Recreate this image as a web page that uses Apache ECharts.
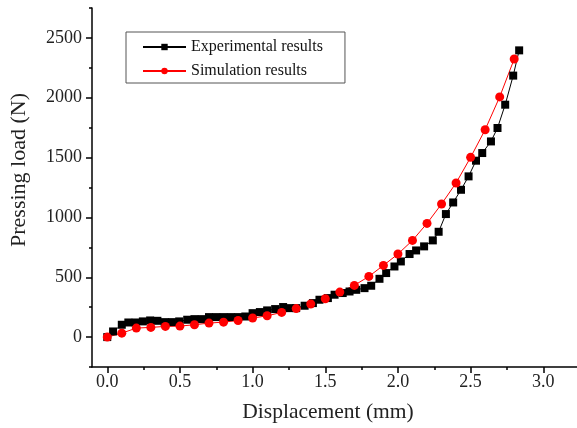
<!DOCTYPE html>
<html><head><meta charset="utf-8">
<script src="https://cdn.jsdelivr.net/npm/echarts@6/dist/echarts.min.js"></script>
<style>html,body{margin:0;padding:0;background:#fff}#c{width:577px;height:428px}</style>
</head><body><div id="c"></div>
<script>
const expX = [0, 0.04, 0.10, 0.145, 0.195, 0.245, 0.295, 0.345, 0.395, 0.445, 0.495, 0.55, 0.60, 0.65, 0.70, 0.75, 0.80, 0.85, 0.90, 0.95, 1.0, 1.05, 1.10, 1.155, 1.21, 1.255, 1.30, 1.358, 1.415, 1.46, 1.518, 1.564, 1.62, 1.667, 1.713, 1.77, 1.816, 1.873, 1.919, 1.976, 2.02, 2.08, 2.125, 2.18, 2.24, 2.28, 2.33, 2.38, 2.434, 2.486, 2.537, 2.58, 2.64, 2.685, 2.738, 2.793, 2.834];
const expY = [0, 47, 103, 122, 122, 131, 139, 136, 125, 125, 131, 145, 150, 150, 167, 167, 167, 167, 167, 172, 200, 209, 223, 234, 251, 242, 242, 262, 284, 312, 326, 354, 368, 381, 395, 409, 429, 487, 535, 590, 632, 694, 724, 758, 808, 880, 1028, 1125, 1231, 1343, 1474, 1538, 1635, 1747, 1942, 2185, 2396];
const simX = [0, 0.1, 0.2, 0.3, 0.4, 0.5, 0.6, 0.7, 0.8, 0.9, 1.0, 1.1, 1.2, 1.3, 1.4, 1.5, 1.6, 1.7, 1.8, 1.9, 2.0, 2.1, 2.2, 2.3, 2.4, 2.5, 2.6, 2.7, 2.8];
const simY = [0, 33, 75, 81, 89, 92, 103, 117, 125, 139, 159, 178, 206, 238, 276, 320, 376, 432, 507, 599, 694, 808, 950, 1112, 1288, 1502, 1733, 2007, 2324];
const xTicks = [0, 0.5, 1.0, 1.5, 2.0, 2.5, 3.0];
const xMinorTicks = [0.25, 0.75, 1.25, 1.75, 2.25, 2.75];
const yTicks = [0, 500, 1000, 1500, 2000, 2500];
const yMinorTicks = [-250, 250, 750, 1250, 1750, 2250, 2750];
const seriesNames = ['Experimental results', 'Simulation results'];
const xTitle = 'Displacement (mm)';
const yTitle = 'Pressing load (N)';

const FONT = 'Liberation Serif';
const XMIN = -0.105, XMAX = 3.232, YMIN = -250, YMAX = 2750;
const chart = echarts.init(document.getElementById('c'));
const axisLineStyle = {color: '#000', width: 1.5};
function xAxisDef(ticks, len, main) {
  return {type: 'value', min: XMIN, max: XMAX, position: 'bottom', splitLine: {show: false},
    axisLine: {show: main, onZero: false, lineStyle: axisLineStyle},
    axisTick: {show: true, customValues: ticks, length: len, inside: false, lineStyle: {color: '#000', width: 1.5}},
    axisLabel: {show: main, customValues: ticks, margin: 6, fontFamily: FONT, fontSize: 18, color: '#222',
      formatter: v => v.toFixed(1)}};
}
function yAxisDef(ticks, len, main) {
  return {type: 'value', min: YMIN, max: YMAX, position: 'left', splitLine: {show: false},
    axisLine: {show: main, onZero: false, lineStyle: axisLineStyle},
    axisTick: {show: true, customValues: ticks, length: len, inside: false, lineStyle: {color: '#000', width: 1.5}},
    axisLabel: {show: main, customValues: ticks, margin: 10, fontFamily: FONT, fontSize: 18, color: '#222',
      formatter: v => String(v)}};
}
chart.setOption({
  animation: false,
  grid: {left: 92, top: 8, width: 485, height: 359, containLabel: false},
  xAxis: [xAxisDef(xTicks, 6, true), xAxisDef(xMinorTicks, 3, false)],
  yAxis: [yAxisDef(yTicks, 6, true), yAxisDef(yMinorTicks, 3, false)],
  legend: {
    orient: 'vertical', left: 126, top: 32, width: 220,
    data: seriesNames,
    borderColor: '#555', borderWidth: 1, borderRadius: 0,
    padding: [7, 22, 4, 16], itemGap: 8, itemWidth: 43, itemHeight: 8,
    textStyle: {fontFamily: FONT, fontSize: 16, color: '#111'}
  },
  graphic: [
    {type: 'text', position: [328, 412], style: {text: xTitle, font: '21.5px "Liberation Serif"', fill: '#222', textAlign: 'center', textVerticalAlign: 'middle'}},
    {type: 'text', rotation: Math.PI / 2, position: [19, 170], style: {text: yTitle, font: '22px "Liberation Serif"', fill: '#222', textAlign: 'center', textVerticalAlign: 'middle'}}
  ],
  series: [
    {name: seriesNames[0], type: 'line', data: expX.map((x, i) => [x, expY[i]]),
      symbol: 'rect', symbolSize: 8, color: '#000', lineStyle: {color: '#000', width: 1}, itemStyle: {color: '#000'}},
    {name: seriesNames[1], type: 'line', data: simX.map((x, i) => [x, simY[i]]),
      symbol: 'circle', symbolSize: 9, color: '#ff0000', lineStyle: {color: '#ff0000', width: 1}, itemStyle: {color: '#ff0000'}}
  ]
});
</script></body></html>
